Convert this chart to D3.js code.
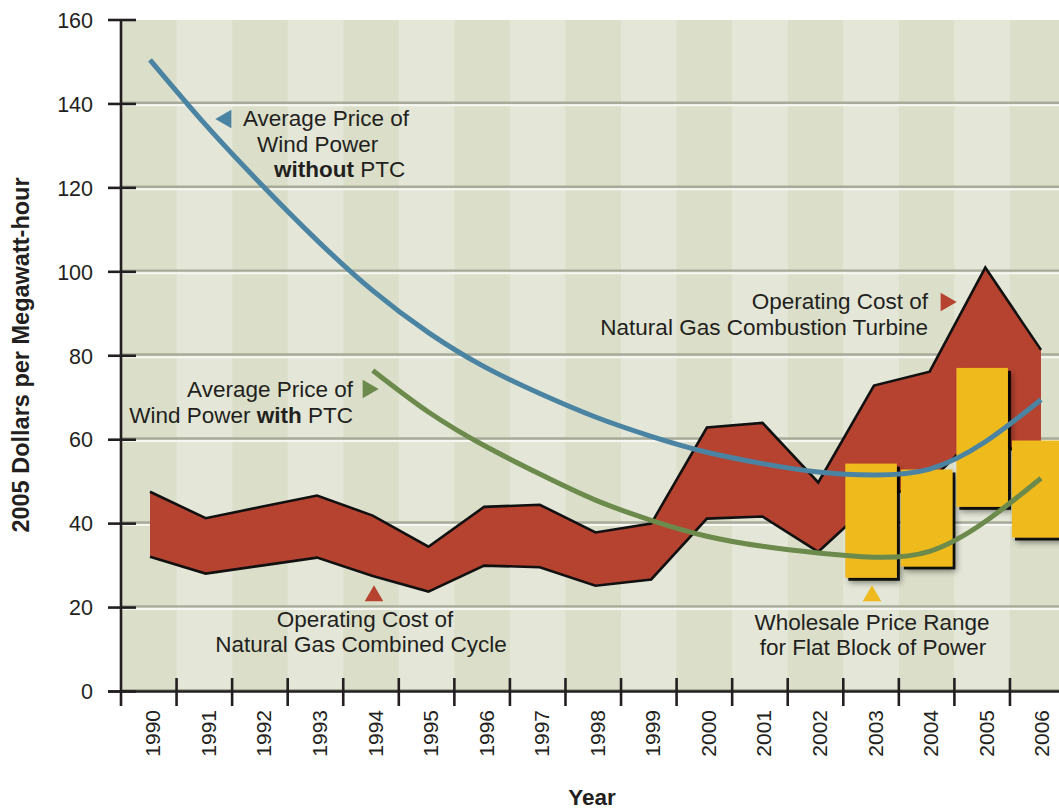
<!DOCTYPE html>
<html>
<head>
<meta charset="utf-8">
<script src="https://cdn.jsdelivr.net/npm/d3@7"></script>
<style>
  html, body { margin: 0; padding: 0; background: #ffffff; }
  svg { display: block; font-family: "Liberation Sans", Arial, Helvetica, sans-serif; }
</style>
</head>
<body>
<svg id="chart" width="1059" height="811"></svg>
<script>
// Years on the horizontal axis
const years = [1990, 1991, 1992, 1993, 1994, 1995, 1996, 1997, 1998, 1999,
               2000, 2001, 2002, 2003, 2004, 2005, 2006];

// Vertical axis ticks (2005 $/MWh)
const yTicks = [0, 20, 40, 60, 80, 100, 120, 140, 160];

// Natural gas operating cost band (combined cycle, then combustion turbine)
const gasUpper = [47.6, 41.3, 44.0, 46.7, 41.9, 34.5, 44.0, 44.5, 37.9, 40.0,
                  62.9, 64.0, 49.8, 72.9, 76.2, 101.0, 81.4];
const gasLower = [32.1, 28.1, 30.0, 31.9, 27.5, 23.8, 30.0, 29.6, 25.2, 26.7,
                  41.2, 41.7, 33.3, 45.5, 50.0, 63.0, 52.0];

// Average price of wind power without the production tax credit
const windNoPTC = [150.5, 135.0, 120.8, 107.5, 95.5, 85.5, 77.4, 71.0, 65.4, 60.8,
                   57.0, 54.3, 52.3, 51.6, 53.0, 59.5, 69.5];

// Average price of wind power with the production tax credit (from 1994)
const ptcYears = [1994, 1995, 1996, 1997, 1998, 1999, 2000, 2001, 2002, 2003, 2004, 2005, 2006];
const windPTC  = [76.5, 66.6, 58.6, 51.8, 45.6, 40.8, 37.0, 34.6, 33.0, 32.0, 33.4, 40.5, 50.8];

// Wholesale price range for a flat block of power
const wholesaleYears = [2003, 2004, 2005, 2006];
const wholesaleLow   = [27.1, 29.8, 44.0, 36.7];
const wholesaleHigh  = [54.3, 52.9, 77.1, 59.8];

const C = {
  stripeDark: "#dbdfca",
  stripeLight: "#e4e7d7",
  gridGrey: "#a7ab99",
  gridWhite: "#f6f7f1",
  ink: "#231f20",
  gas: "#b64330",
  blue: "#4b83a3",
  green: "#6d8a4d",
  gold: "#eeba1f"
};

const svg = d3.select("#chart");

// Scales
const band = d3.scaleBand().domain(years).range([121, 121 + 17 * 55.56]).padding(0);
const x = d3.scaleLinear().domain([1990, 2006]).range([150, 1041]);
const y = d3.scaleLinear().domain([0, 160]).range([691.5, 20]);

// Drop shadow for the wholesale blocks
const defs = svg.append("defs");
const f = defs.append("filter").attr("id", "blockShadow")
  .attr("x", "-30%").attr("y", "-30%").attr("width", "170%").attr("height", "170%");
f.append("feGaussianBlur").attr("in", "SourceAlpha").attr("stdDeviation", 3).attr("result", "soft");
f.append("feOffset").attr("in", "soft").attr("dx", 4).attr("dy", 5).attr("result", "softOff");
f.append("feComponentTransfer").attr("in", "softOff").attr("result", "softFade")
  .append("feFuncA").attr("type", "linear").attr("slope", 0.45);
f.append("feGaussianBlur").attr("in", "SourceAlpha").attr("stdDeviation", 0.6).attr("result", "hard");
f.append("feOffset").attr("in", "hard").attr("dx", 3).attr("dy", 3).attr("result", "hardOff");
f.append("feComponentTransfer").attr("in", "hardOff").attr("result", "hardFade")
  .append("feFuncA").attr("type", "linear").attr("slope", 0.9);
const merge = f.append("feMerge");
merge.append("feMergeNode").attr("in", "softFade");
merge.append("feMergeNode").attr("in", "hardFade");
merge.append("feMergeNode").attr("in", "SourceGraphic");

// Alternating year stripes
svg.append("g").selectAll("rect").data(years).join("rect")
  .attr("x", d => band(d)).attr("y", y(160))
  .attr("width", band.bandwidth() + 0.5).attr("height", y(0) - y(160))
  .attr("fill", (d, i) => i % 2 === 0 ? C.stripeDark : C.stripeLight);

// Horizontal grid: grey rule with a light highlight beneath
const grid = svg.append("g");
grid.selectAll("line.g1").data(yTicks.filter(v => v < 160)).join("line")
  .attr("x1", 121).attr("x2", 1059)
  .attr("y1", d => y(d) - 1.2).attr("y2", d => y(d) - 1.2)
  .attr("stroke", C.gridGrey).attr("stroke-width", 2.4);
grid.selectAll("line.g2").data(yTicks.filter(v => v > 0 && v < 160)).join("line")
  .attr("x1", 121).attr("x2", 1059)
  .attr("y1", d => y(d) + 1.4).attr("y2", d => y(d) + 1.4)
  .attr("stroke", C.gridWhite).attr("stroke-width", 2);

// Natural gas cost band
const gasData = years.map((yr, i) => ({ yr, lo: gasLower[i], hi: gasUpper[i] }));
svg.append("path").datum(gasData)
  .attr("fill", C.gas)
  .attr("d", d3.area().x(d => x(d.yr)).y0(d => y(d.lo)).y1(d => y(d.hi)));
const edge = svg.append("g").attr("fill", "none").attr("stroke", "#111")
  .attr("stroke-width", 2.6).attr("stroke-linejoin", "miter");
edge.append("path").datum(gasData).attr("d", d3.line().x(d => x(d.yr)).y(d => y(d.hi)));
edge.append("path").datum(gasData).attr("d", d3.line().x(d => x(d.yr)).y(d => y(d.lo)));

// Wholesale price blocks
const blocks = wholesaleYears.map((yr, i) => ({ yr, lo: wholesaleLow[i], hi: wholesaleHigh[i] }));
svg.append("g").selectAll("rect").data(blocks).join("rect")
  .attr("x", d => band(d.yr) + 2)
  .attr("width", band.bandwidth() - 4)
  .attr("y", d => y(d.hi))
  .attr("height", d => y(d.lo) - y(d.hi))
  .attr("fill", C.gold)
  .attr("filter", "url(#blockShadow)");

// Wind price curves
svg.append("path")
  .datum(years.map((yr, i) => [yr, windNoPTC[i]]))
  .attr("fill", "none").attr("stroke", C.blue).attr("stroke-width", 5)
  .attr("d", d3.line().x(d => x(d[0])).y(d => y(d[1])).curve(d3.curveNatural));
svg.append("path")
  .datum(ptcYears.map((yr, i) => [yr, windPTC[i]]))
  .attr("fill", "none").attr("stroke", C.green).attr("stroke-width", 5)
  .attr("d", d3.line().x(d => x(d[0])).y(d => y(d[1])).curve(d3.curveNatural));

// Axes
const axes = svg.append("g").attr("stroke", C.ink).attr("stroke-width", 2.6);
axes.append("line").attr("x1", 121).attr("x2", 121).attr("y1", y(160)).attr("y2", 706);
axes.append("line").attr("x1", 108).attr("x2", 1059).attr("y1", y(0)).attr("y2", y(0));
axes.selectAll("line.yt").data(yTicks).join("line")
  .attr("x1", 108).attr("x2", 136)
  .attr("y1", d => y(d)).attr("y2", d => y(d));
axes.selectAll("line.xt").data(years.slice(1)).join("line")
  .attr("x1", d => band(d)).attr("x2", d => band(d))
  .attr("y1", 678).attr("y2", 706);

svg.append("g").selectAll("text").data(yTicks).join("text")
  .attr("x", 93).attr("y", d => y(d) + 7.8)
  .attr("text-anchor", "end").attr("font-size", 21.5).attr("fill", C.ink)
  .text(d => d);

svg.append("g").selectAll("text").data(years).join("text")
  .attr("transform", d => `translate(${band(d) + band.bandwidth() / 2 + 11.5},710) rotate(-90)`)
  .attr("text-anchor", "end").attr("font-size", 21).attr("fill", C.ink)
  .text(d => d);

// Axis titles
svg.append("text")
  .attr("transform", "translate(29,355) rotate(-90)")
  .attr("text-anchor", "middle").attr("font-size", 23.5).attr("font-weight", "bold")
  .attr("fill", C.ink)
  .text("2005 Dollars per Megawatt-hour");
svg.append("text")
  .attr("x", 592).attr("y", 805)
  .attr("text-anchor", "middle").attr("font-size", 22.5).attr("font-weight", "bold")
  .attr("fill", C.ink)
  .text("Year");

// Annotations
const note = svg.append("g").attr("font-size", 22.5).attr("fill", C.ink);
function addLine(xp, yp, anchor, parts) {
  const t = note.append("text").attr("x", xp).attr("y", yp).attr("text-anchor", anchor);
  parts.forEach(p => {
    const s = t.append("tspan").text(p[0]);
    if (p[1]) s.attr("font-weight", "bold");
  });
}
addLine(243, 126, "start", [["Average Price of"]]);
addLine(257, 152, "start", [["Wind Power"]]);
addLine(274, 177, "start", [["without", true], [" PTC"]]);

addLine(353, 397, "end", [["Average Price of"]]);
addLine(353, 423, "end", [["Wind Power "], ["with", true], [" PTC"]]);

addLine(928, 309, "end", [["Operating Cost of"]]);
addLine(928, 335, "end", [["Natural Gas Combustion Turbine"]]);

addLine(365, 627, "middle", [["Operating Cost of"]]);
addLine(361, 652, "middle", [["Natural Gas Combined Cycle"]]);

addLine(872, 630, "middle", [["Wholesale Price Range"]]);
addLine(873, 655, "middle", [["for Flat Block of Power"]]);

// Pointer triangles
const tri = d3.symbol().type(d3.symbolTriangle).size(150);
const pointers = [
  { x: 226, y: 119, rot: -90, fill: C.blue },
  { x: 368, y: 389, rot: 90, fill: C.green },
  { x: 946, y: 302, rot: 90, fill: C.gas },
  { x: 374, y: 596, rot: 0, fill: C.gas },
  { x: 872, y: 596, rot: 0, fill: C.gold }
];
svg.append("g").selectAll("path").data(pointers).join("path")
  .attr("d", tri)
  .attr("transform", d => `translate(${d.x},${d.y}) rotate(${d.rot})`)
  .attr("fill", d => d.fill);
</script>
</body>
</html>
